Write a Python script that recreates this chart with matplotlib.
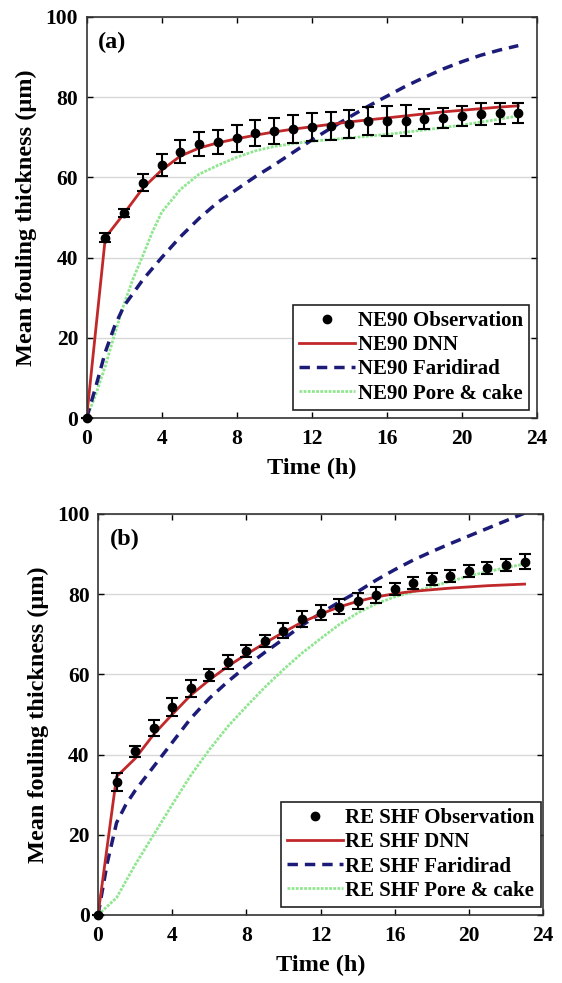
import matplotlib
matplotlib.use("Agg")
from matplotlib import pyplot as plt
from matplotlib.lines import Line2D

# ---- data ----
t_obs = list(range(24))

# panel (a) NE90
obs_a = [0, 45, 51, 58.7, 63.1, 66.4, 68.2, 68.9, 69.7, 71, 71.5, 72, 72.5, 72.8,
         73.2, 74, 74, 74.1, 74.5, 74.8, 75.3, 75.7, 75.9, 76.1]
err_a = [0, 1.2, 1, 2.2, 2.7, 2.8, 3, 3, 3.3, 3.3, 3.3, 3.5, 3.5, 3.5, 3.5, 3.5,
         3.8, 3.8, 2.5, 2.5, 2.5, 2.7, 2.5, 2.5]
dnn_a = [0, 45, 51, 57.3, 61.8, 65.3, 67.3, 68.6, 69.6, 70.5, 71.3, 72, 72.6, 73.2,
         73.8, 74.3, 74.8, 75.3, 75.8, 76.3, 76.7, 77.1, 77.5, 77.8]
t_far_a = [0, 0.5, 1, 1.5, 2, 3, 4, 5, 6, 7, 8, 9, 10, 11, 12, 13, 14, 15, 16, 17,
           18, 19, 20, 21, 22, 23]
far_a = [0, 8, 16.5, 23, 28, 34.5, 40, 45.2, 49.8, 53.8, 57, 60.2, 63.1, 66.2, 69.3,
         72.2, 75, 77.7, 80.2, 82.7, 84.9, 87, 88.8, 90.4, 91.7, 92.8]
t_pc_a = [0, 0.5, 1, 1.5, 2, 2.5, 3, 3.5, 4, 5, 6, 7, 8, 9, 10, 11, 12, 14, 16, 18,
          20, 22, 23]
pc_a = [0, 6, 13, 21, 28.5, 35, 40.5, 46.3, 51.3, 57, 60.8, 63, 65, 66.6, 67.7,
        68.4, 69, 69.8, 70.7, 71.8, 73, 74.5, 75.3]

# panel (b) RE SHF
obs_b = [0, 33.1, 40.8, 46.7, 51.8, 56.5, 59.9, 63.1, 65.9, 68.4, 70.9, 73.9, 75.4,
         76.9, 78.2, 79.8, 81.3, 82.7, 83.7, 84.6, 85.7, 86.5, 87.2, 88.1]
err_b = [0, 2.2, 1.3, 2, 2.3, 2.1, 1.5, 1.7, 1.5, 1.5, 1.8, 2, 1.8, 1.8, 2, 2, 1.5,
         1.5, 1.5, 1.5, 1.5, 1.5, 1.5, 1.8]
dnn_b = [0, 34.5, 39, 45, 50, 54.8, 58.6, 62, 65, 67.8, 70.5, 73, 75, 76.8, 78.2,
         79.3, 80.1, 80.7, 81.1, 81.5, 81.8, 82.1, 82.3, 82.5]
t_far_b = [0, 0.5, 1, 1.5, 2, 3, 4, 5, 6, 7, 8, 9, 10, 11, 12, 13, 14, 15, 16, 17,
           18, 19, 20, 21, 22, 23]
far_b = [0, 13, 23, 27.5, 31, 37, 43, 49, 54, 58.2, 62, 65.5, 68.8, 72.2, 75.2, 78,
         80.6, 83.5, 86.1, 88.5, 90.6, 92.6, 94.5, 96.4, 98.3, 100.2]
pc_b = [0, 4.3, 12.5, 20, 27.5, 34.8, 41.2, 47, 52, 56.8, 61.2, 65.3, 68.9, 72.4,
        75.3, 77.6, 79.3, 80.6, 81.9, 83.2, 84.5, 85.6, 86.6, 87.5]

labels_a = ["NE90 Observation", "NE90 DNN", "NE90 Faridirad", "NE90 Pore & cake"]
labels_b = ["RE SHF Observation", "RE SHF DNN", "RE SHF Faridirad", "RE SHF Pore & cake"]

plt.rcParams['font.family'] = ['Liberation Serif', 'DejaVu Serif']
plt.rcParams['font.weight'] = 'bold'

RED = '#c0282a'
BLUE = '#1c1c78'
GREEN = '#90e690'


def panel(ax, obs, err, dnn, t_far, far, t_pc, pc, tag):
    ax.grid(axis='y', color='#d8d8d8', lw=1)
    ax.set_axisbelow(True)
    ax.plot(t_pc, pc, color=GREEN, lw=2, linestyle=(0, (1, 0.5)))
    ax.plot(t_far, far, color=BLUE, lw=2.5, dashes=(3, 2))
    ax.plot(t_obs, dnn, color=RED, lw=2)
    ax.errorbar(t_obs, obs, yerr=err, fmt='o', color='black', ms=6,
                elinewidth=1.5, capsize=4.3, capthick=1.5, clip_on=False, zorder=5)
    ax.set_xlim(0, 24)
    ax.set_ylim(0, 100)
    ax.set_xticks([0, 4, 8, 12, 16, 20, 24])
    ax.set_yticks([0, 20, 40, 60, 80, 100])
    ax.tick_params(direction='in', top=True, right=True, length=4, width=1,
                   labelsize=15.5, pad=6)
    ax.tick_params(axis='x', pad=8)
    for s in ax.spines.values():
        s.set_linewidth(1.2)
        s.set_color('#333333')
    ax.set_xlabel("Time (h)", fontsize=17.5, fontweight='bold', labelpad=6)
    ax.set_ylabel("Mean fouling thickness (μm)", fontsize=17.5, fontweight='bold',
                  labelpad=6)
    ax.text(0.026, 0.962, tag, transform=ax.transAxes, fontsize=17.5,
            fontweight='bold', va='top', ha='left')
    handles = [
        Line2D([], [], marker='o', color='black', ms=6, linestyle='none'),
        Line2D([], [], color=RED, lw=2),
        Line2D([], [], color=BLUE, lw=2.5, dashes=(3, 2)),
        Line2D([], [], color=GREEN, lw=2, linestyle=(0, (1, 0.5))),
    ]
    return handles


fig = plt.figure(figsize=(5.62, 9.83), dpi=100)
ax1 = fig.add_axes([0.154, 0.5745, 0.8016, 0.4085])
ax2 = fig.add_axes([0.1744, 0.0692, 0.792, 0.408])

legend_kw = dict(loc='lower right', borderaxespad=0, fontsize=15,
                 handlelength=2.7, handletextpad=0.1, labelspacing=0.2,
                 borderpad=0.3, fancybox=False, framealpha=1,
                 edgecolor='#222222')

h = panel(ax1, obs_a, err_a, dnn_a, t_far_a, far_a, t_pc_a, pc_a, "(a)")
leg = ax1.legend(h, labels_a, bbox_to_anchor=(0.982, 0.021), **legend_kw)
leg.get_frame().set_linewidth(1.2)

h = panel(ax2, obs_b, err_b, dnn_b, t_far_b, far_b, t_obs, pc_b, "(b)")
leg = ax2.legend(h, labels_b, bbox_to_anchor=(0.9955, 0.02), **legend_kw)
leg.get_frame().set_linewidth(1.2)

fig.savefig("out.png", dpi=100)
